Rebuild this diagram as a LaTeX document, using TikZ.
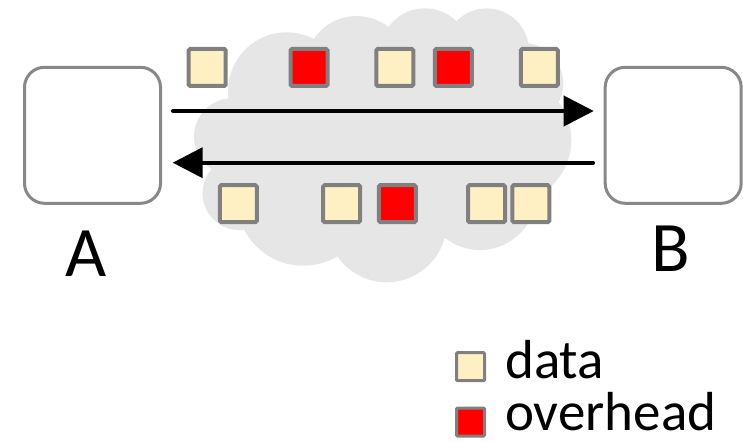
\documentclass[tikz,border=0pt]{standalone}
\usepackage{fontspec}
\setmainfont{Carlito}
\usetikzlibrary{arrows.meta,calc}
\definecolor{cloudgray}{RGB}{230,230,230}
\definecolor{pktgray}{RGB}{128,128,128}
\definecolor{boxgray}{RGB}{136,136,136}
\definecolor{datafill}{RGB}{255,240,196}
\definecolor{ovhred}{RGB}{255,0,0}
\tikzset{
  hostbox/.style={draw=boxgray, line width=3pt, fill=white, rounded corners=20pt, minimum size=136pt, inner sep=0pt},
  pkt/.style={draw=pktgray, line width=4pt, minimum size=37pt, inner sep=0pt, rounded corners=1.5pt},
  datapkt/.style={pkt, fill=datafill},
  ovhpkt/.style={pkt, fill=ovhred},
  legpkt/.style={draw=pktgray, line width=3pt, minimum size=28pt, inner sep=0pt, rounded corners=1pt},
  arr/.style={line width=4pt, line cap=round, -{Triangle[length=30pt,width=30pt]}},
  biglabel/.style={font=\fontsize{71}{71}\selectfont, inner sep=0pt, anchor=base},
  leglabel/.style={font=\fontsize{55}{55}\selectfont, inner sep=0pt, anchor=base west}
}
\begin{document}
\begin{tikzpicture}[x=1pt,y=-1pt]
\useasboundingbox (0,0) rectangle (743,441);
% cloud
\begin{scope}[fill=cloudgray]
\fill (385,140) ellipse [x radius=150, y radius=90];
\fill (286.7,91) circle [radius=58.7];
\fill (356.7,67.6) circle [radius=51.6];
\fill (425,53.3) circle [radius=45];
\fill (486.7,50.7) circle [radius=42.3];
\fill (523,83.3) circle [radius=40.3];
\fill (508.3,140) circle [radius=63];
\fill (480,193.3) circle [radius=56.7];
\fill (386.7,222.3) circle [radius=60];
\fill (303.3,199) circle [radius=66.7];
\fill (239.5,193.3) circle [radius=36.9];
\fill (232.6,136.7) circle [radius=38.6];
\end{scope}
% hosts
\node[hostbox] (A) at (92.5,135.3) {};
\node[hostbox] (B) at (673.2,135.3) {};
\node[biglabel] (la) at (85.8,276) {A};
\node[biglabel] (lb) at (670.3,271.7) {B};
% arrows
\draw[arr] ($(A.east)+(11,-24.3)$) -- ($(B.west)+(-10,-24.3)$);
\draw[arr] ($(B.west)+(-10.7,27.4)$) -- ($(A.east)+(10.7,27.4)$);
% top packets
\node[datapkt] (t1) at (207.2,67.5) {};
\node[ovhpkt]  (t2) at (309,67.5) {};
\node[datapkt] (t3) at (394.8,67.5) {};
\node[ovhpkt]  (t4) at (453.3,67.5) {};
\node[datapkt] (t5) at (539.3,67.5) {};
% bottom packets
\node[datapkt] (b1) at (238.3,203.7) {};
\node[datapkt] (b2) at (341.7,203.7) {};
\node[ovhpkt]  (b3) at (397.3,203.7) {};
\node[datapkt] (b4) at (486.5,203.7) {};
\node[datapkt] (b5) at (530.8,203.7) {};
% legend
\node[legpkt, fill=datafill] (ld) at (470.5,366.7) {};
\node[legpkt, fill=ovhred] (lo) at (470.5,422) {};
\node[leglabel] (tdata) at (505,378.5) {data};
\node[leglabel] (tovh) at (505,430.5) {overhead};
\end{tikzpicture}
\end{document}
